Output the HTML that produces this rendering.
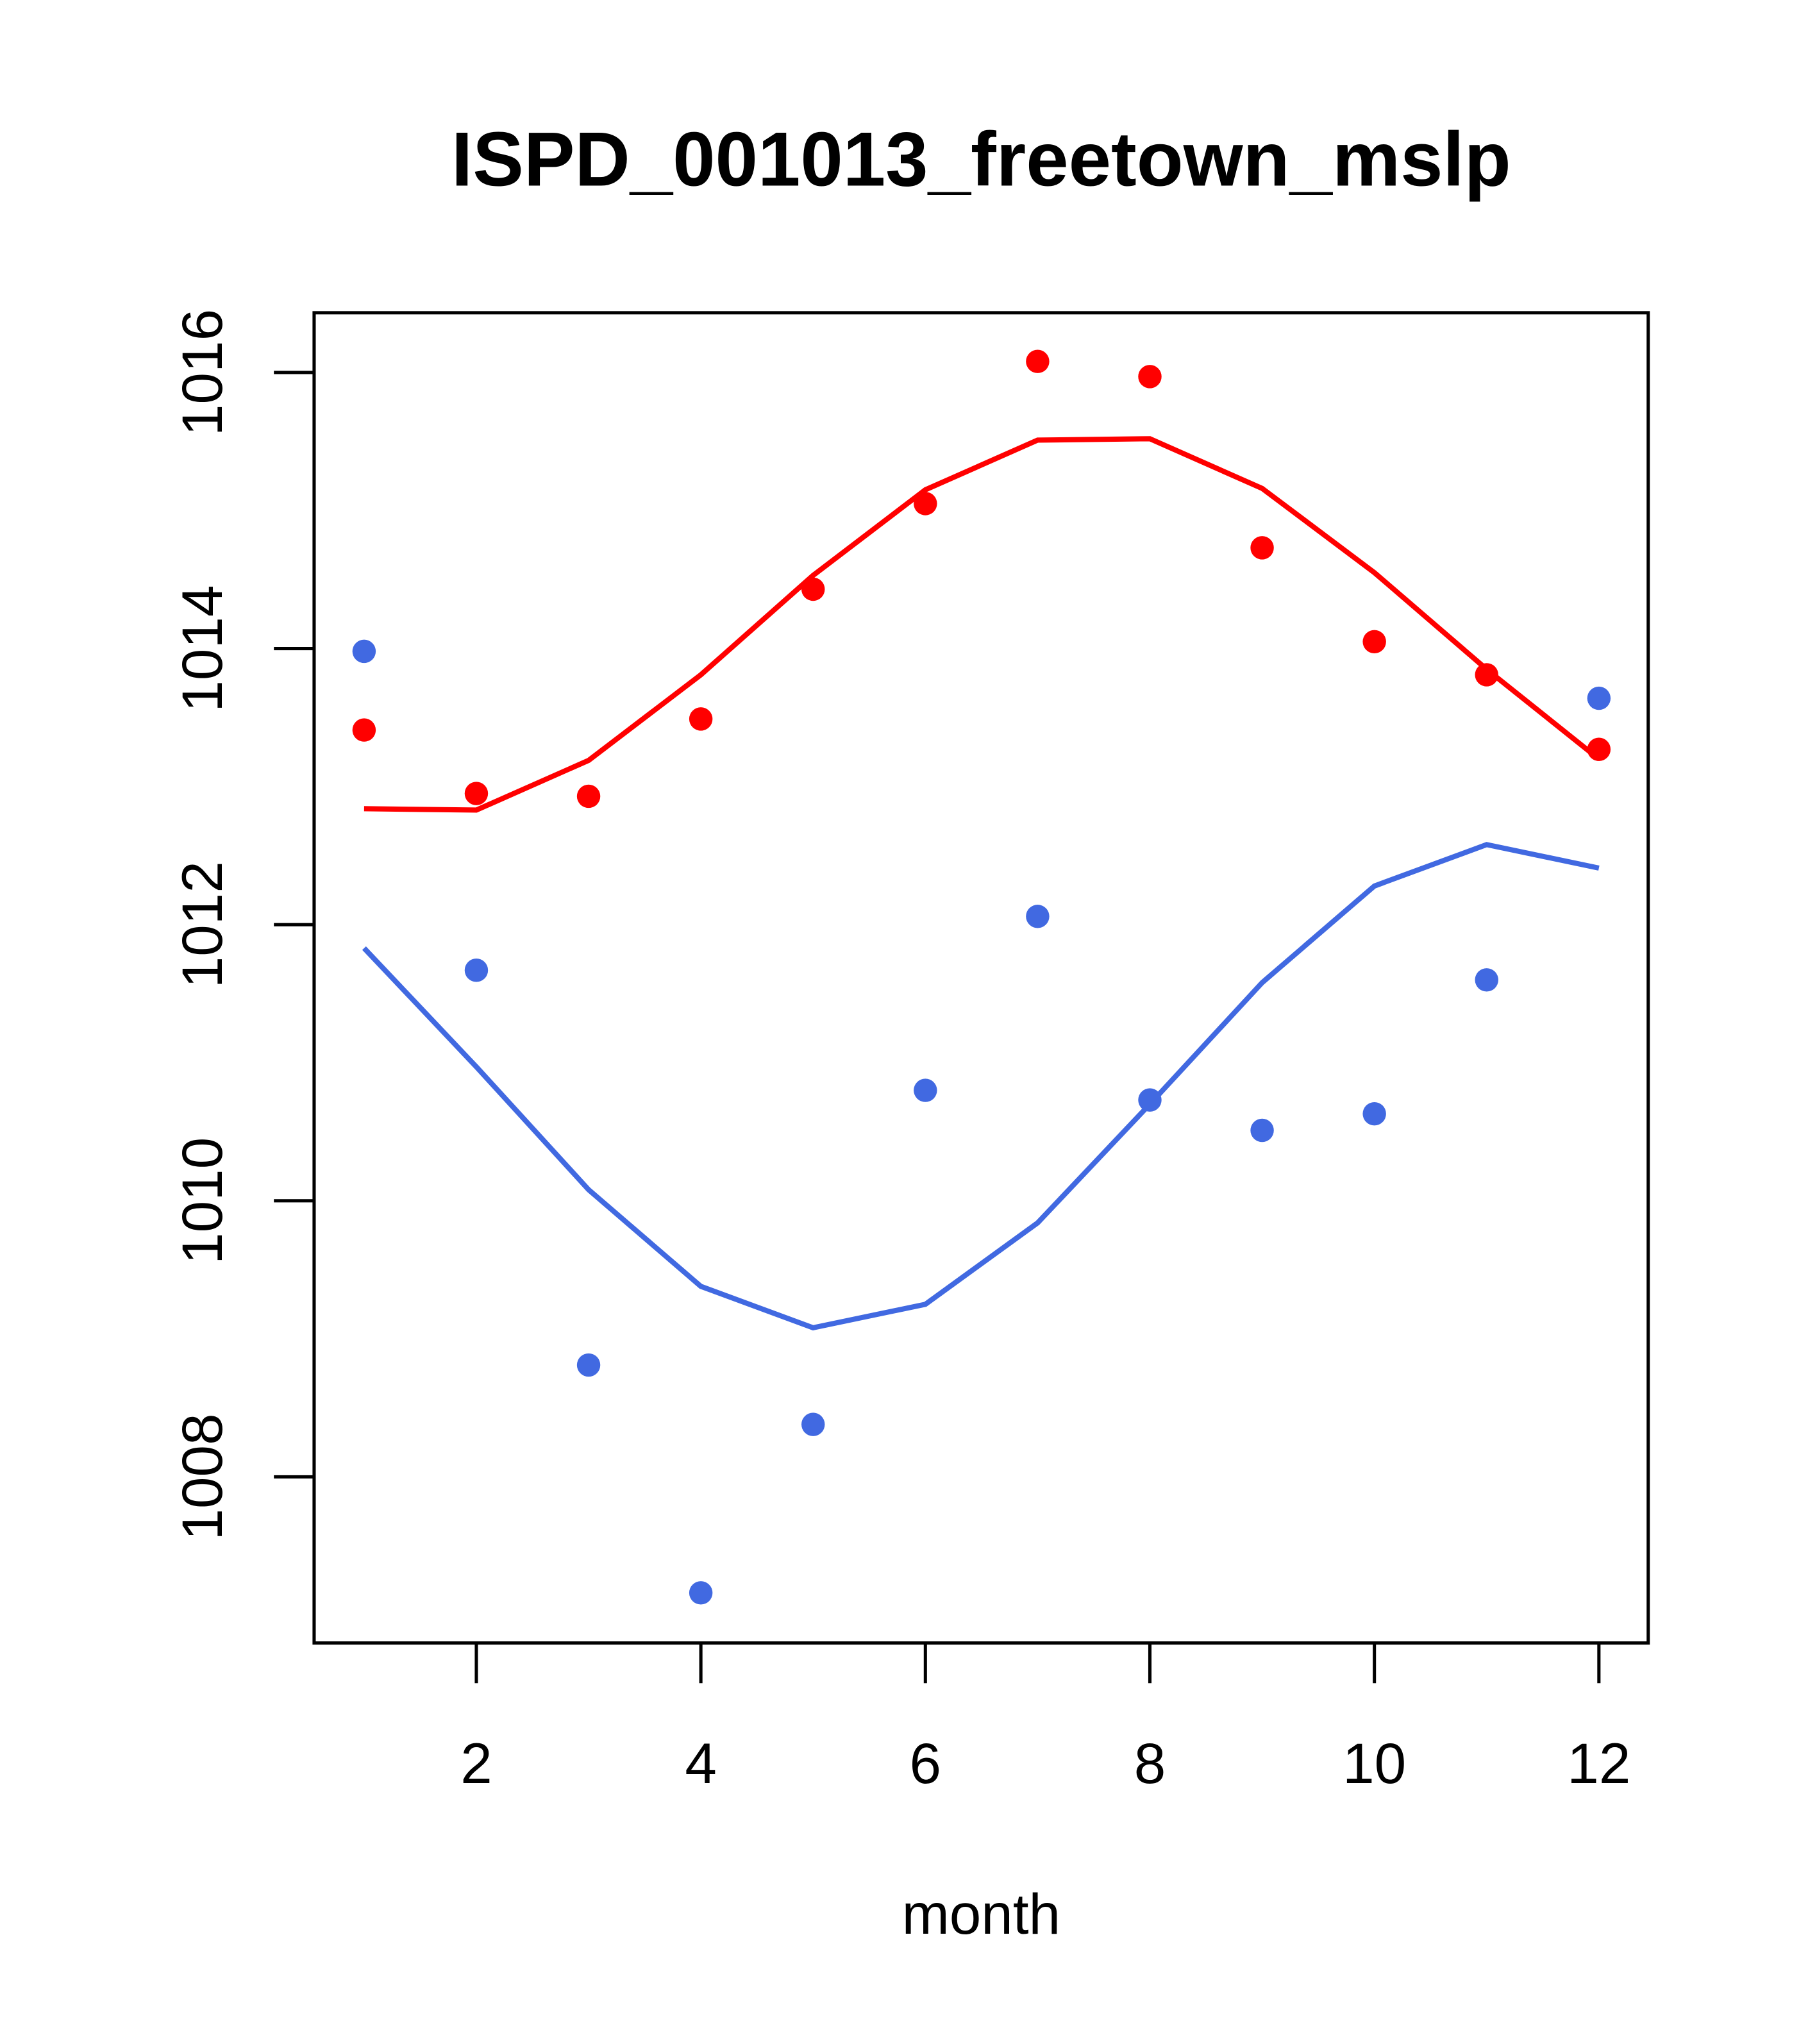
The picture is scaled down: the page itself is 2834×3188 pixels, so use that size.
<!DOCTYPE html>
<html><head><meta charset="utf-8">
<style>
html,body{margin:0;padding:0;background:#fff;}
svg{display:block;}
text{font-family:"Liberation Sans",Arial,sans-serif;fill:#000;}
</style></head>
<body>
<svg id="chart" width="2834" height="3188" viewBox="0 0 1400 1575" xmlns="http://www.w3.org/2000/svg">
<rect width="1400" height="1575" fill="#fff"/>
<text x="756" y="143" font-size="59" font-weight="bold" text-anchor="middle">ISPD_001013_freetown_mslp</text>
<rect x="242" y="241" width="1028" height="1025" fill="none" stroke="#000" stroke-width="2.5"/>
<text x="756" y="1490" font-size="44" text-anchor="middle">month</text>
<g id="g"></g>
</svg>
<script>
const months=[1,2,3,4,5,6,7,8,9,10,11,12];
const xTicks=[2,4,6,8,10,12];
const yTicks=[1008,1010,1012,1014,1016];
const redPoints=[1013.41,1012.95,1012.93,1013.49,1014.43,1015.05,1016.08,1015.97,1014.73,1014.05,1013.81,1013.27];
const redLine=[1012.84,1012.83,1013.19,1013.81,1014.53,1015.15,1015.51,1015.52,1015.16,1014.55,1013.85,1013.20];
const bluePoints=[1013.98,1011.67,1008.81,1007.16,1008.38,1010.80,1012.06,1010.73,1010.51,1010.63,1011.60,1013.64];
const blueLine=[1011.83,1010.97,1010.08,1009.38,1009.08,1009.25,1009.84,1010.70,1011.58,1012.28,1012.58,1012.41];

const NS="http://www.w3.org/2000/svg";
const g=document.getElementById('g');
const xs=m=>367+(m-2)*86.5;
const ys=v=>287+(1016-v)*106.375;
function mk(t,a){const e=document.createElementNS(NS,t);for(const k in a)e.setAttribute(k,a[k]);g.appendChild(e);return e;}

xTicks.forEach(t=>{
  const l=mk('line',{x1:xs(t),x2:xs(t),y1:1266,y2:1297,stroke:'#000','stroke-width':2.5});
  
  
  const tx=mk('text',{x:xs(t),y:1374,'font-size':44,'text-anchor':'middle'});
  tx.textContent=t;
  
  
});
yTicks.forEach(t=>{
  const l=mk('line',{x1:242,x2:211,y1:ys(t),y2:ys(t),stroke:'#000','stroke-width':2.5});
  
  
  const tx=mk('text',{x:0,y:0,'font-size':44,'text-anchor':'middle',transform:`translate(171,${ys(t)}) rotate(-90)`});
  tx.textContent=t;
  
  
});
function line(vals,col,name){
  const p=mk('polyline',{points:vals.map((v,i)=>xs(months[i])+','+ys(v)).join(' '),fill:'none',stroke:col,'stroke-width':4});
  
  
}
function pts(vals,col,name){
  vals.forEach((v,i)=>{
    const c=mk('circle',{cx:xs(months[i]),cy:ys(v),r:9,fill:col});
    
    
  });
}
line(redLine,'#ff0000','red-fit-line');
line(blueLine,'#4169e1','blue-fit-line');
pts(redPoints,'#ff0000','red-point');
pts(bluePoints,'#4169e1','blue-point');
</script>
</body></html>
